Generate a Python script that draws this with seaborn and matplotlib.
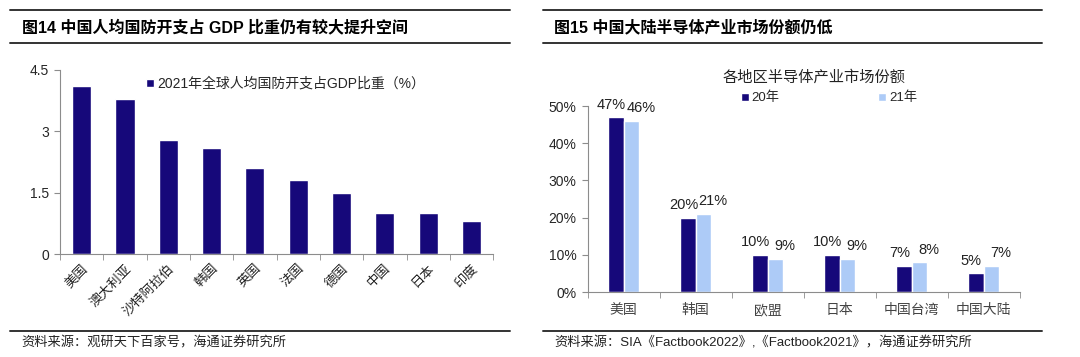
import pandas as pd
import matplotlib
matplotlib.use("Agg")
import matplotlib.pyplot as plt
import seaborn as sns
from matplotlib.lines import Line2D
from matplotlib.patches import Patch
from matplotlib.ticker import FixedLocator

# left panel data
countries = ['美国', '澳大利亚', '沙特阿拉伯', '韩国', '英国', '法国', '德国', '中国', '日本', '印度']
defense_gdp = [4.1, 3.8, 2.8, 2.6, 2.1, 1.8, 1.5, 1.0, 1.0, 0.8]
left_yticks = [0, 1.5, 3, 4.5]
left_yticklabels = ['0', '1.5', '3', '4.5']

# right panel data
regions = ['美国', '韩国', '欧盟', '日本', '中国台湾', '中国大陆']
share_20 = [47, 20, 10, 10, 7, 5]
share_21 = [46, 21, 9, 9, 8, 7]
years = ['20年', '21年']

navy = '#16087a'
light = '#adcbf7'
axis_grey = '#8c8c8c'
text_dark = '#222222'

sns.set_style('white')
plt.rcParams['font.family'] = ['Liberation Sans', 'Noto Sans CJK SC', 'DejaVu Sans']
plt.rcParams['axes.unicode_minus'] = False

fig = plt.figure(figsize=(10.8, 3.57), dpi=100)

# frame lines and titles
def hline(y, x0, x1, lw):
    fig.add_artist(Line2D([x0, x1], [y, y], transform=fig.transFigure, color='#333333', lw=lw))

for x0, x1 in [(0.009, 0.472), (0.503, 0.965)]:
    hline(0.972, x0, x1, 1.4)
    hline(0.880, x0, x1, 1.4)
    hline(0.073, x0, x1, 1.4)

fig.text(0.020, 0.924, '图14 中国人均国防开支占 GDP 比重仍有较大提升空间', fontsize=11.5,
         fontweight='bold', va='center', color='black')
fig.text(0.513, 0.924, '图15 中国大陆半导体产业市场份额仍低', fontsize=11.5,
         fontweight='bold', va='center', color='black')
fig.text(0.020, 0.040, '资料来源：观研天下百家号，海通证券研究所', fontsize=9.5, va='center', color=text_dark)
fig.text(0.513, 0.040, '资料来源：SIA《Factbook2022》,《Factbook2021》，海通证券研究所', fontsize=9.5,
         va='center', color=text_dark)

# ---- left chart
ax1 = fig.add_axes([0.0556, 0.288, 0.401, 0.516])
sns.barplot(x=countries, y=defense_gdp, color=navy, width=0.44, saturation=1, ax=ax1,
            label='2021年全球人均国防开支占GDP比重（%）')
ax1.set_ylim(0, 4.5)
ax1.set_xlim(-0.5, len(countries) - 0.5)
ax1.set_yticks(left_yticks)
ax1.set_yticklabels(left_yticklabels, fontsize=10)
ax1.set_xticks(range(len(countries)))
ax1.set_xticklabels(countries, rotation=45, ha='right', rotation_mode='anchor', fontsize=9.5, color=text_dark)
ax1.xaxis.set_minor_locator(FixedLocator([i - 0.5 for i in range(len(countries) + 1)]))
ax1.tick_params(axis='x', which='major', length=0, pad=6)
ax1.tick_params(axis='x', which='minor', length=4, color=axis_grey, direction='out', bottom=True)
ax1.tick_params(axis='y', length=4, color=axis_grey, direction='out', left=True, pad=4)
for s in ['top', 'right']:
    ax1.spines[s].set_visible(False)
for s in ['left', 'bottom']:
    ax1.spines[s].set_color(axis_grey)
    ax1.spines[s].set_linewidth(0.8)
ax1.set_xlabel('')
ax1.set_ylabel('')
ax1.legend(loc='upper center', bbox_to_anchor=(0.52, 1.03), frameon=False, fontsize=10,
           handlelength=0.6, handleheight=0.6, handletextpad=0.2)

# ---- right chart
df = pd.DataFrame({
    'region': regions * 2,
    'year': [years[0]] * len(regions) + [years[1]] * len(regions),
    'share': share_20 + share_21,
})
ax2 = fig.add_axes([0.544, 0.182, 0.400, 0.521])
sns.barplot(data=df, x='region', y='share', hue='year', palette=[navy, light], width=0.44,
            saturation=1, ax=ax2, legend=False)
ax2.set_ylim(0, 50)
ax2.set_xlim(-0.5, len(regions) - 0.5)
ax2.set_yticks(range(0, 51, 10))
ax2.set_yticklabels([f'{v}%' for v in range(0, 51, 10)], fontsize=10)
ax2.set_xticks(range(len(regions)))
ax2.set_xticklabels(regions, fontsize=10, color='#444444')
ax2.xaxis.set_minor_locator(FixedLocator([i - 0.5 for i in range(len(regions) + 1)]))
ax2.tick_params(axis='x', which='major', length=0, pad=8)
ax2.tick_params(axis='x', which='minor', length=4, color=axis_grey, direction='out', bottom=True)
ax2.tick_params(axis='y', length=4, color=axis_grey, direction='out', left=True, pad=4)
for s in ['top', 'right']:
    ax2.spines[s].set_visible(False)
for s in ['left', 'bottom']:
    ax2.spines[s].set_color(axis_grey)
    ax2.spines[s].set_linewidth(0.8)
ax2.set_xlabel('')
ax2.set_ylabel('')

for cont, dx in zip(ax2.containers, [-3, 7]):
    for bar in cont:
        h = bar.get_height()
        ax2.annotate(f'{h:.0f}%', (bar.get_x() + bar.get_width() / 2, h), xytext=(dx, 4),
                     textcoords='offset points', ha='center', va='bottom', fontsize=10.5, color=text_dark)

fig.text(0.754, 0.782, '各地区半导体产业市场份额', fontsize=11, ha='center', va='center', color=text_dark)
handles = [Patch(facecolor=navy), Patch(facecolor=light)]
fig.legend(handles, years, loc='center left', bbox_to_anchor=(0.675, 0.725), ncol=2, frameon=False,
           fontsize=9.5, handlelength=0.6, handleheight=0.6, handletextpad=0.2, columnspacing=7.5)

fig.savefig('out.png', dpi=100)
